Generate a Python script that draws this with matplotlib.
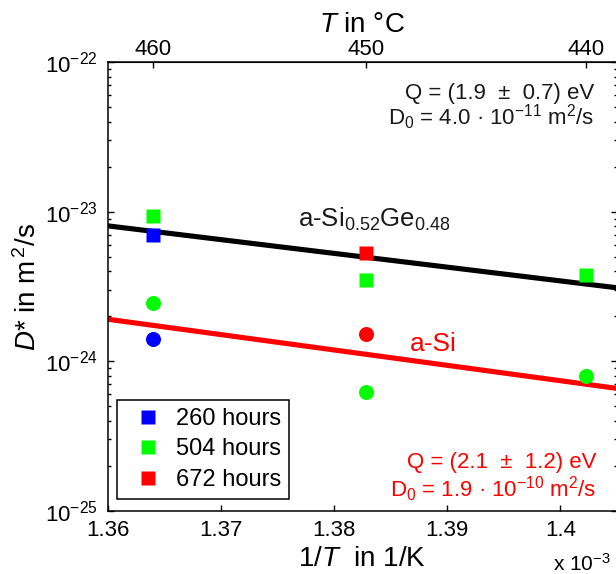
import matplotlib
matplotlib.use("Agg")
import matplotlib.pyplot as plt
from matplotlib.lines import Line2D
from matplotlib.ticker import NullFormatter, NullLocator, FixedLocator
import numpy as np

plt.rcParams['font.family'] = ['Liberation Sans', 'DejaVu Sans']
plt.rcParams['mathtext.fontset'] = 'custom'
plt.rcParams['mathtext.rm'] = 'Liberation Sans'
plt.rcParams['mathtext.it'] = 'Liberation Sans:italic'
plt.rcParams['mathtext.default'] = 'regular'
plt.rcParams['axes.unicode_minus'] = False

# ---- data ----
temps_C = [460, 450, 440]                  # annealing temperatures
# a-Si0.52Ge0.48 (squares)
sige_260_T = [460];            sige_260 = [7.0e-24]
sige_504_T = [460, 450, 440];  sige_504 = [9.3e-24, 3.5e-24, 3.8e-24]
sige_672_T = [450];            sige_672 = [5.3e-24]
# a-Si (circles)
si_260_T = [460];              si_260 = [1.40e-24]
si_504_T = [460, 450, 440];    si_504 = [2.44e-24, 6.2e-25, 8.0e-25]
si_672_T = [450];              si_672 = [1.52e-24]
# Arrhenius fit lines (1/T in 1e-3 1/K)
fit_invT = [1.36, 1.405]
fit_sige = [8.05e-24, 3.10e-24]
fit_si = [1.91e-24, 6.58e-25]

legend_labels = ['260 hours', '504 hours', '672 hours']
colors = ['#0000ff', '#00ff00', '#ff0000']
xticks = [1.36, 1.37, 1.38, 1.39, 1.40]
xtick_labels = ['1.36', '1.37', '1.38', '1.39', '1.4']
yticks = [1e-25, 1e-24, 1e-23, 1e-22]
top_ticks = [460, 450, 440]


def inv(tc):
    return 1000.0 / (np.asarray(tc, dtype=float) + 273.15)


fig = plt.figure(figsize=(6.16, 5.74), dpi=100)
ax = fig.add_axes([107.7 / 616, 1 - 510.7 / 574, (617 - 107.7) / 616, (510.7 - 62.3) / 574])

ax.plot(fit_invT, fit_sige, color='black', lw=3.7, solid_capstyle='butt', zorder=2)
ax.plot(fit_invT, fit_si, color='#ff0000', lw=3.7, solid_capstyle='butt', zorder=2)

sq = 9.8
ci = 10.8
ax.plot(inv(sige_260_T), sige_260, 's', color=colors[0], ms=sq, mec='none', zorder=3)
ax.plot(inv(sige_504_T), sige_504, 's', color=colors[1], ms=sq, mec='none', zorder=3)
ax.plot(inv(sige_672_T), sige_672, 's', color=colors[2], ms=sq, mec='none', zorder=3)
ax.plot(inv(si_260_T), si_260, 'o', color=colors[0], ms=ci, mec='none', zorder=3)
ax.plot(inv(si_504_T), si_504, 'o', color=colors[1], ms=ci, mec='none', zorder=3)
ax.plot(inv(si_672_T), si_672, 'o', color=colors[2], ms=ci, mec='none', zorder=3)

ax.set_yscale('log')
ax.set_ylim(1e-25, 1e-22)
ax.set_xlim(1.36, 1.405)
ax.set_xticks(xticks)
ax.set_xticklabels(xtick_labels)
ax.yaxis.set_major_locator(FixedLocator(yticks))
ax.set_yticklabels([r'10$^{%d}$' % int(round(np.log10(v))) for v in yticks])
minor_y = [m * 10.0 ** e for e in (-25, -24, -23) for m in range(2, 10)]
ax.yaxis.set_minor_locator(FixedLocator(minor_y))
ax.yaxis.set_minor_formatter(NullFormatter())
ax.xaxis.set_minor_locator(NullLocator())

for s in ax.spines.values():
    s.set_linewidth(1.1)
ax.tick_params(axis='both', which='both', direction='in', labelsize=16, right=True, width=1.0)
ax.tick_params(axis='both', which='major', length=4)
ax.tick_params(axis='y', which='minor', length=2.5)
ax.tick_params(axis='x', pad=7)
ax.tick_params(axis='y', pad=7)

ax.set_xlabel(r'1/$\mathit{T}$  in 1/K', fontsize=20, labelpad=3)
ax.set_ylabel(r'$\mathit{D}$* in m$^{\,2}$/s', fontsize=20, labelpad=2)

sec = ax.secondary_xaxis('top', functions=(lambda x: 1000.0 / np.asarray(x, dtype=float) - 273.15,
                                           lambda t: 1000.0 / (np.asarray(t, dtype=float) + 273.15)))
sec.set_xticks(top_ticks)
sec.set_xticklabels([str(t) for t in top_ticks])
sec.tick_params(direction='in', labelsize=16, length=4, width=1.0, pad=1.5)
sec.minorticks_off()
sec.set_xlabel(r'$\mathit{T}$ in °C', fontsize=20, labelpad=5)

# offset label
fig.text(553 / 616, (574 - 571) / 574, r'x 10$^{-3}$', fontsize=15, ha='left', va='baseline')

# annotations
ax.text(0.374, 0.633, r'a-Si$_{0.52}$Ge$_{0.48}$', transform=ax.transAxes, fontsize=18.5,
        ha='left', va='baseline', color='#1a1a1a')
ax.text(0.594, 0.356, 'a-Si', transform=ax.transAxes, fontsize=19,
        ha='left', va='baseline', color='#ff0000')
ax.text(0.955, 0.918, 'Q = (1.9  ±  0.7) eV', transform=ax.transAxes, fontsize=16,
        ha='right', va='baseline', color='#1a1a1a')
ax.text(0.955, 0.860, r'D$_0$ = 4.0 · 10$^{-11}$ m$^2$/s', transform=ax.transAxes, fontsize=16,
        ha='right', va='baseline', color='#1a1a1a')
ax.text(0.960, 0.096, 'Q = (2.1  ±  1.2) eV', transform=ax.transAxes, fontsize=16,
        ha='right', va='baseline', color='#ff0000')
ax.text(0.960, 0.031, r'D$_0$ = 1.9 · 10$^{-10}$ m$^2$/s', transform=ax.transAxes, fontsize=16,
        ha='right', va='baseline', color='#ff0000')

handles = [Line2D([], [], marker='s', linestyle='none', color=c, mec='none', ms=sq) for c in colors]
leg = ax.legend(handles, legend_labels, loc='lower left', bbox_to_anchor=(0.018, 0.026),
                borderaxespad=0, fontsize=17, frameon=True, fancybox=False,
                edgecolor='black', framealpha=1, handlelength=1.9, handletextpad=0.25,
                labelspacing=0.36, borderpad=0.35)
leg.get_frame().set_linewidth(1.1)

fig.savefig('out.png', dpi=100)
